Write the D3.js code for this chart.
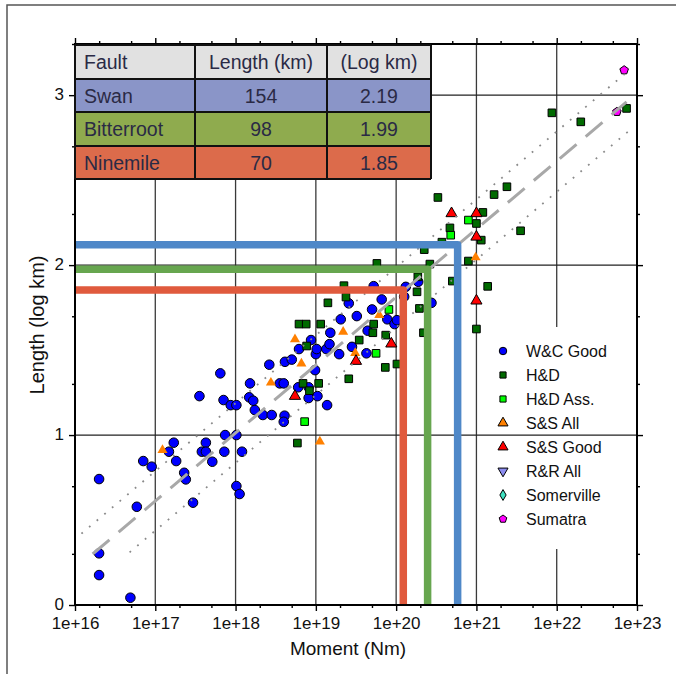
<!DOCTYPE html>
<html><head><meta charset="utf-8">
<script src="https://cdn.jsdelivr.net/npm/d3@7"></script>
<style>
body{margin:0;background:#fff}
svg{display:block}
text{font-family:"Liberation Sans",Arial,Helvetica,sans-serif}
</style>
</head><body>
<svg id="c" width="676" height="674"></svg>
<script>
// ---------------- DATA (log10 moment [Nm], log10 length [km]) ----------------
const wcGood = [[16.30,0.741],[16.77,0.578],[16.30,0.304],[16.30,0.176],[16.69,0.043],[16.85,0.847],[16.955,0.814],[17.17,0.902],[17.23,0.955],[17.26,0.847],
[17.36,0.778],[17.38,0.739],[17.47,0.602],[17.55,1.229],[17.81,1.363],[17.85,1.206],[17.94,1.176],[18.01,1.176],[17.58,0.902],[17.63,0.955],
[17.63,0.902],[17.71,0.843],[17.87,1.0],[18.01,1.0],[17.86,0.902],[18.08,0.902],[18.01,0.700],[18.05,0.653],[18.18,1.304],[18.17,1.222],
[18.22,1.202],[18.24,1.147],[18.34,1.118],[18.45,1.118],[18.42,1.414],[18.55,1.304],[18.60,1.304],[18.61,1.114],[18.60,1.078],[18.615,1.431],
[18.70,1.444],[18.78,1.281],[18.91,1.281],[18.91,1.218],[18.99,1.382],[19.02,1.229],[19.14,1.176],[18.79,1.506],[18.94,1.559],[19.00,1.476],
[19.01,1.506],[19.13,1.506],[19.17,1.535],[19.18,1.602],[19.29,1.476],[19.31,1.681],[19.41,1.775],[19.45,1.519],[19.51,1.700],[19.63,1.481],
[19.645,1.614],[19.70,1.739],[19.72,1.876],[19.82,1.798],[19.89,1.681],[19.98,1.653],[20.01,1.676],[20.12,1.872],[20.275,1.902],[20.44,1.778],[20.10,1.814]];
const hd = [[20.52,2.398],[21.38,2.461],[21.22,2.415],[21.08,2.310],[21.00,2.245],[20.67,2.219],[21.06,2.147],[21.55,2.202],[20.35,2.091],[20.90,2.024],
[20.42,2.006],[20.70,1.906],[21.14,1.875],[19.76,2.010],[19.35,1.879],[19.375,1.812],[20.27,1.931],[20.26,1.843],[20.29,1.745],[19.72,1.653],
[19.71,1.602],[19.87,1.588],[19.54,1.559],[20.34,1.602],[21.00,1.624],[19.865,1.398],[20.01,1.418],[19.41,1.331],[19.15,1.778],[18.79,1.653],
[18.88,1.653],[19.06,1.653],[18.885,1.524],[19.035,1.304],[18.84,1.304],[18.92,1.261],[18.77,0.953],[21.94,2.896],[22.30,2.843],[22.87,2.922],[20.57,2.135]];
const hdAss = [[20.90,2.265],[20.68,2.176],[19.91,1.739],[19.75,1.481],[18.86,1.079]];
const ssAll = [[20.99,2.045],[18.74,1.563],[19.34,1.608],[19.79,1.706],[18.82,1.421],[18.44,1.308],[19.49,1.482],[17.09,0.912],[19.05,0.961]];
const ssGood = [[20.69,2.304],[21.0,2.304],[21.0,2.166],[21.0,1.790],[19.94,1.537],[19.50,1.435],[18.74,1.229]];
const rrAll = [];
const somerville = [];
const sumatra = [[22.84,3.147],[22.75,2.902]];

// regression line and bounds
const fitLine = [[16.22,0.30],[22.87,2.96]];
const upperBound = [[16.08,0.42],[22.91,3.15]];
const lowerBound = [[16.68,0.31],[22.95,2.81]];

// fault table
const faultNames = ["Swan","Bitterroot","Ninemile"];
const faultLengthKm = ["154","98","70"];
const faultLogKm = ["2.19","1.99","1.85"];
const tableHeader = ["Fault","Length (km)","(Log km)"];
// fault marker lines (log moment of vertical leg, log length of horizontal leg)
const faultLineMoment = [20.766, 20.392, 20.089];
const faultLineLength = [2.12, 1.975, 1.853];

const xTickExps = [16,17,18,19,20,21,22,23];
const yTicks = [0,1,2,3];

// ---------------- CHART ----------------
const svg = d3.select("#c");
const L = 75, R = 637, T = 44, B = 605;
const x = d3.scaleLog().domain([1e16,1e23]).range([L,R]);
const y = d3.scaleLinear().domain([0,Math.log10(2000)]).range([B,T]);
const px = d => x(Math.pow(10,d[0])), py = d => y(d[1]);

// outer frame
svg.append("path").attr("d","M7,674V5H676").attr("fill","none").attr("stroke","#555").attr("stroke-width",1.5);

// vertical grid
const majorX = xTickExps.map(e=>Math.pow(10,e));
svg.append("g").selectAll("line").data(majorX.slice(1,-1)).join("line")
  .attr("x1",d=>x(d)).attr("x2",d=>x(d)).attr("y1",T).attr("y2",B)
  .attr("stroke","#3a3a3a").attr("stroke-width",1.3);

// legend background
svg.append("rect").attr("x",488).attr("y",327).attr("width",146).attr("height",222).attr("fill","#fff");

// horizontal grid
svg.append("g").selectAll("line").data(yTicks.slice(1)).join("line")
  .attr("x1",L).attr("x2",R).attr("y1",d=>y(d)).attr("y2",d=>y(d))
  .attr("stroke","#222").attr("stroke-width",1.2);

// symbols
const pentagon = {draw(ctx,size){const r=Math.sqrt(size/2.378);for(let i=0;i<5;i++){const a=-Math.PI/2+i*2*Math.PI/5;const X=r*Math.cos(a),Y=r*Math.sin(a);i?ctx.lineTo(X,Y):ctx.moveTo(X,Y);}ctx.closePath();}};
const series = [
  {name:"W&C Good", data:wcGood, type:d3.symbolCircle, size:72, lsize:44, fill:"#0000ff", stroke:"#000", sw:1},
  {name:"H&D", data:hd, type:d3.symbolSquare, size:58, lsize:38, fill:"#006a00", stroke:"#000", sw:1},
  {name:"H&D Ass.", data:hdAss, type:d3.symbolSquare, size:58, lsize:38, fill:"#00ff00", stroke:"#000", sw:1},
  {name:"S&S All", data:ssAll, type:d3.symbolTriangle, size:44, lsize:44, fill:"#ff8000", stroke:"none", sw:0, lstroke:"#000"},
  {name:"S&S Good", data:ssGood, type:d3.symbolTriangle, size:54, lsize:44, fill:"#ff0000", stroke:"#000", sw:1},
  {name:"R&R All", data:rrAll, type:d3.symbolTriangle, size:44, lsize:44, fill:"#8c8cf0", stroke:"#000", sw:1, rot:180},
  {name:"Somerville", data:somerville, type:d3.symbolDiamond, size:40, lsize:34, fill:"#40e0c0", stroke:"#000", sw:1},
  {name:"Sumatra", data:sumatra, type:pentagon, size:48, lsize:38, fill:"#ff00ff", stroke:"#000", sw:1}
];
const gPts = svg.append("g");
series.forEach(s=>{
  gPts.append("g").selectAll("path").data(s.data).join("path")
    .attr("d", d3.symbol().type(s.type).size(s.size))
    .attr("transform", d=>`translate(${px(d)},${py(d)})${s.rot?` rotate(${s.rot})`:""}`)
    .attr("fill", s.fill).attr("stroke", s.stroke).attr("stroke-width", s.sw);
});

// regression & bounds
const line = d3.line().x(px).y(py);
svg.append("path").attr("d",line(upperBound)).attr("fill","none").attr("stroke","#8a8a8a").attr("stroke-width",1.8).attr("stroke-dasharray","1.8,8.2");
svg.append("path").attr("d",line(lowerBound)).attr("fill","none").attr("stroke","#8a8a8a").attr("stroke-width",1.8).attr("stroke-dasharray","1.8,8.2");
svg.append("path").attr("d",line(fitLine)).attr("fill","none").attr("stroke","#a8a8a8").attr("stroke-width",3).attr("stroke-dasharray","22,12");

// fault lines
const faultColors = ["#4f88c8","#67a64f","#e05a3d"];
faultNames.forEach((f,i)=>{
  const xm = x(Math.pow(10,faultLineMoment[i])), yl = y(faultLineLength[i]);
  svg.append("path").attr("d",`M${L+1},${yl}H${xm}V${B}`).attr("fill","none")
    .attr("stroke",faultColors[i]).attr("stroke-width",7.5).attr("stroke-linejoin","round");
});

// axes
const fmtX = d => "1e+" + Math.round(Math.log10(d));
const minorX = [];
xTickExps.slice(0,-1).forEach(e=>{minorX.push(2*Math.pow(10,e),5*Math.pow(10,e));});
const minorY = [];
[0,1,2,3].forEach(k=>{[Math.log10(2),Math.log10(5)].forEach(v=>{if(k+v<=3.302) minorY.push(k+v);});});

function styleAxis(g){g.select(".domain").remove();g.selectAll(".tick line").attr("stroke","#000").attr("stroke-width",1.4);}
svg.append("g").attr("transform",`translate(0,${B})`).call(d3.axisBottom(x).tickValues(majorX).tickFormat(fmtX).tickSize(6).tickPadding(6)).call(styleAxis)
  .selectAll("text").attr("font-size",17).attr("fill","#111");
svg.append("g").attr("transform",`translate(0,${B})`).call(d3.axisBottom(x).tickValues(minorX).tickFormat("").tickSize(3)).call(styleAxis);
svg.append("g").attr("transform",`translate(0,${T})`).call(d3.axisTop(x).tickValues(majorX).tickFormat("").tickSize(6)).call(styleAxis);
svg.append("g").attr("transform",`translate(0,${T})`).call(d3.axisTop(x).tickValues(minorX).tickFormat("").tickSize(3)).call(styleAxis);
svg.append("g").attr("transform",`translate(${L},0)`).call(d3.axisLeft(y).tickValues(yTicks).tickFormat(d3.format("d")).tickSize(6).tickPadding(5)).call(styleAxis)
  .selectAll("text").attr("font-size",17).attr("fill","#111").attr("dy","0.28em");
svg.append("g").attr("transform",`translate(${L},0)`).call(d3.axisLeft(y).tickValues(minorY).tickFormat("").tickSize(3)).call(styleAxis);
svg.append("g").attr("transform",`translate(${R},0)`).call(d3.axisRight(y).tickValues(yTicks).tickFormat("").tickSize(6)).call(styleAxis);
svg.append("g").attr("transform",`translate(${R},0)`).call(d3.axisRight(y).tickValues(minorY).tickFormat("").tickSize(3)).call(styleAxis);

// frame
svg.append("rect").attr("x",L).attr("y",T).attr("width",R-L).attr("height",B-T).attr("fill","none").attr("stroke","#000").attr("stroke-width",2);

// axis titles
svg.append("text").attr("x",348).attr("y",655).attr("text-anchor","middle").attr("font-size",19).attr("fill","#111").text("Moment (Nm)");
svg.append("text").attr("transform",`translate(44,325) rotate(-90)`).attr("text-anchor","middle").attr("font-size",20).attr("fill","#111").text("Length (log km)");

// table
const colX = [75,195,327,431], rowY = [45,79,112,146,179];
const rowFill = ["#e1e1e1","#8a95c8","#8fab4e","#dc6b4b"];
const rows = [tableHeader].concat(faultNames.map((f,i)=>[f,faultLengthKm[i],faultLogKm[i]]));
const gT = svg.append("g");
rows.forEach((r,i)=>{
  gT.append("rect").attr("x",colX[0]).attr("y",rowY[i]).attr("width",colX[3]-colX[0]).attr("height",rowY[i+1]-rowY[i]).attr("fill",rowFill[i]);
  r.forEach((c,j)=>{
    const left = j===0;
    gT.append("text").attr("x", left ? colX[0]+9 : (colX[j]+colX[j+1])/2)
      .attr("y",(rowY[i]+rowY[i+1])/2+7).attr("text-anchor", left?"start":"middle")
      .attr("font-size",19.5).attr("fill","#2a2a45").text(c);
  });
});
colX.forEach(cx=>gT.append("line").attr("x1",cx).attr("x2",cx).attr("y1",rowY[0]).attr("y2",rowY[4]).attr("stroke","#111").attr("stroke-width",2));
rowY.forEach(ry=>gT.append("line").attr("x1",colX[0]).attr("x2",colX[3]).attr("y1",ry).attr("y2",ry).attr("stroke","#111").attr("stroke-width",2));

// legend
const lg = svg.append("g");
series.forEach((s,i)=>{
  const yy = 351 + i*24;
  lg.append("path").attr("d",d3.symbol().type(s.type).size(s.lsize))
    .attr("transform",`translate(503,${yy})${s.rot?` rotate(${s.rot})`:""}`)
    .attr("fill",s.fill).attr("stroke",s.lstroke||s.stroke).attr("stroke-width",1);
  lg.append("text").attr("x",526).attr("y",yy+6).attr("font-size",16).attr("fill","#111").text(s.name);
});
</script>
</body></html>
